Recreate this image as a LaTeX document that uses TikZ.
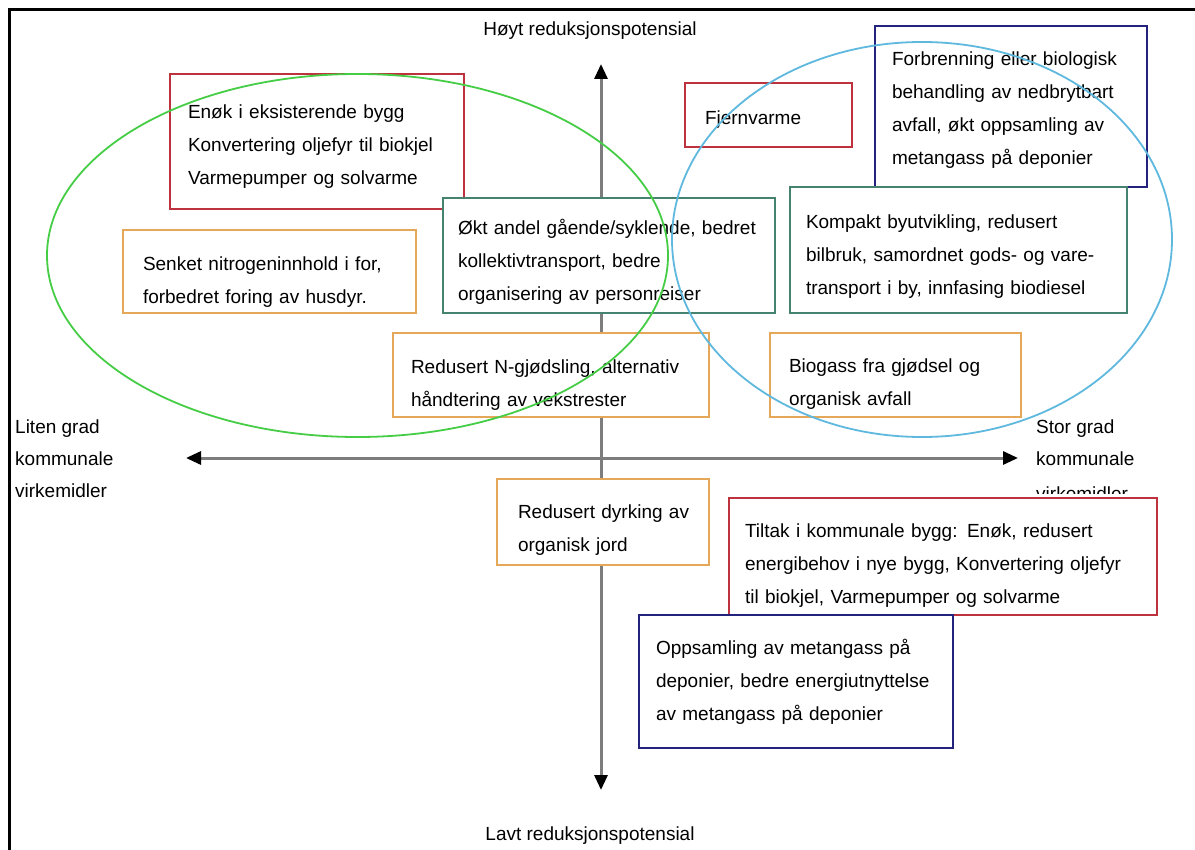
\documentclass[tikz,border=0pt]{standalone}
\usepackage{fontspec}
\setmainfont{Liberation Sans}
\usetikzlibrary{arrows.meta}
\definecolor{redc}{RGB}{190,50,62}
\definecolor{navyc}{RGB}{35,35,125}
\definecolor{tealc}{RGB}{70,130,112}
\definecolor{orangec}{RGB}{228,168,88}
\definecolor{greenc}{RGB}{70,205,70}
\definecolor{bluec}{RGB}{95,185,222}
\definecolor{axisc}{RGB}{125,125,125}
\newcommand\fs{\fontsize{19}{33}\selectfont}
\newcommand\dn[1]{\rule{0pt}{\the\numexpr 14+2*#1\relax pt}}
\tikzset{
  box/.style={draw, fill=white, line width=1.6pt, align=left, inner ysep=0pt, font=\fs},
  lbl/.style={font=\fs, inner sep=0pt},
  axisline/.style={draw=axisc, line width=3pt},
  tip/.tip={Triangle[length=15pt,width=13pt,black]},
  ring/.style={line width=1.8pt}
}
\begin{document}
\begin{tikzpicture}[x=1pt,y=-1pt]
\useasboundingbox (0,0) rectangle (1195,850);
\fill[white] (0,0) rectangle (1195,850);
% axes
\coordinate (vt) at (601,64);
\coordinate (vb) at (601,790);
\coordinate (hl) at (186,458);
\coordinate (hr) at (1018,458);
\draw[axisline, tip-tip] (hl) -- (hr);
\draw[axisline, tip-tip] (vb) -- (vt);
% axis labels
\node[lbl] (top) at (590,31) {Høyt reduksjonspotensial};
\node[lbl] (bot) at (590,836) {Lavt reduksjonspotensial};
\node[lbl, anchor=base west] (l1) at (15,433) {Liten grad};
\node[lbl, anchor=base west] (l2) at (15,465) {kommunale};
\node[lbl, anchor=base west] (l3) at (15,497) {virkemidler};
\node[lbl, anchor=base west] (r1) at (1036,433) {Stor grad};
\node[lbl, anchor=base west] (r2) at (1036,465) {kommunale};
\begin{scope}
\clip (1020,470) rectangle (1195,493);
\node[lbl, anchor=base west] (r3) at (1036,500) {virkemidler};
\end{scope}
% boxes
\node[box, draw=redc, minimum width=294pt, minimum height=135pt, inner xsep=18pt, text width=258pt] (b1) at (317,141.5)
  {\dn{5}Enøk i eksisterende bygg\\Konvertering oljefyr til biokjel\\Varmepumper og solvarme};
\node[box, draw=redc, minimum width=167pt, minimum height=64pt, inner xsep=20pt, text width=127pt] (b2) at (768.5,115)
  {\dn{4}Fjernvarme};
\node[box, draw=navyc, minimum width=272pt, minimum height=161pt, inner xsep=17pt, text width=238pt] (b3) at (1011,106.5)
  {\dn{3}Forbrenning eller biologisk\\behandling av nedbrytbart\\avfall, økt oppsamling av\\metangass på deponier};
\node[box, draw=tealc, minimum width=337pt, minimum height=126pt, inner xsep=16pt, text width=305pt] (b6) at (958.5,250)
  {\dn{6}Kompakt byutvikling, redusert\\bilbruk, samordnet gods- og vare-\\transport i by, innfasing biodiesel};
\node[box, draw=tealc, minimum width=332pt, minimum height=115pt, inner xsep=15pt, text width=302pt] (b5) at (609,255.5)
  {\dn{7}Økt andel gående/syklende, bedret\\kollektivtransport, bedre\\organisering av personreiser};
\node[box, draw=orangec, minimum width=293pt, minimum height=83pt, inner xsep=20pt, text width=253pt] (b4) at (269.5,271.5)
  {\dn{10}Senket nitrogeninnhold i for,\\forbedret foring av husdyr.};
\node[box, draw=orangec, minimum width=316pt, minimum height=84pt, inner xsep=18pt, text width=280pt] (b7) at (551,375)
  {\dn{10}Redusert N-gjødsling, alternativ\\håndtering av vekstrester};
\node[box, draw=orangec, minimum width=251pt, minimum height=84pt, inner xsep=19pt, text width=213pt] (b8) at (895.5,375)
  {\dn{9}Biogass fra gjødsel og\\organisk avfall};
\node[box, draw=orangec, minimum width=212pt, minimum height=86pt, inner xsep=21pt, text width=170pt] (b9) at (603,522)
  {\dn{8}\mbox{Redusert dyrking av}\\organisk jord};
\node[box, draw=redc, minimum width=428pt, minimum height=117pt, inner xsep=16pt, text width=396pt] (b10) at (943,556.5)
  {\dn{9}Tiltak i kommunale bygg: Enøk, redusert\\energibehov i nye bygg, Konvertering oljefyr\\til biokjel, Varmepumper og solvarme};
\node[box, draw=navyc, minimum width=314pt, minimum height=133pt, inner xsep=17pt, text width=280pt] (b11) at (796,681.5)
  {Oppsamling av metangass på\\deponier, bedre energiutnyttelse\\av metangass på deponier};
% ellipses
\draw[ring, greenc] (357.5,255.5) ellipse [x radius=310.5pt, y radius=181.5pt];
\draw[ring, bluec] (922,239.5) ellipse [x radius=250pt, y radius=197.5pt];
% frame
\coordinate (fa) at (9,850);
\coordinate (fb) at (9,10);
\coordinate (fc) at (1195,10);
\draw[line width=3pt] (fa) -- (fb) -- (fc);
\end{tikzpicture}
\end{document}
